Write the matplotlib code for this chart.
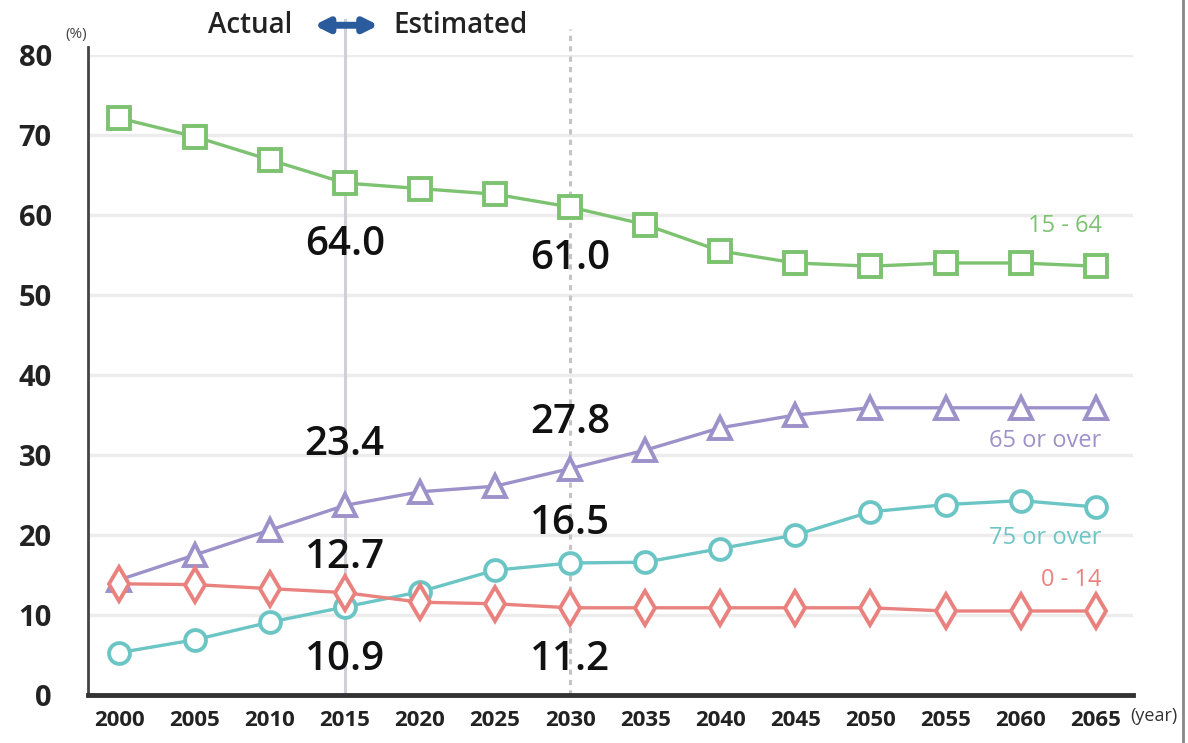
import numpy as np
import matplotlib.pyplot as plt
from matplotlib.lines import Line2D

years = [2000, 2005, 2010, 2015, 2020, 2025, 2030, 2035, 2040, 2045, 2050, 2055, 2060, 2065]

age_15_64 = [72.1, 69.8, 66.9, 64.0, 63.3, 62.6, 61.0, 58.8, 55.5, 54.0, 53.6, 54.0, 54.0, 53.6]
age_65_over = [14.4, 17.5, 20.6, 23.7, 25.4, 26.1, 28.3, 30.6, 33.4, 35.0, 35.9, 35.9, 35.9, 35.9]
age_75_over = [5.3, 6.9, 9.1, 11.0, 12.9, 15.6, 16.5, 16.6, 18.3, 20.0, 22.9, 23.8, 24.3, 23.5]
age_0_14 = [13.9, 13.8, 13.3, 12.8, 11.6, 11.4, 10.9, 10.9, 10.9, 10.9, 10.9, 10.5, 10.5, 10.5]

series_names = ['15 - 64', '65 or over', '75 or over', '0 - 14']
colors = ['#7cc270', '#9d91c9', '#6cc5c5', '#e9827e']
markers = ['s', '^', 'o', 'd']

# numbers written on the chart at 2015 and 2030
ann_years = [2015, 2015, 2015, 2015, 2030, 2030, 2030, 2030]
ann_y = [56.2, 31.2, 17.1, 4.35, 54.5, 34.0, 21.35, 4.35]
ann_text = ['64.0', '23.4', '12.7', '10.9', '61.0', '27.8', '16.5', '11.2']

plt.rcParams['font.family'] = ['Open Sans', 'DejaVu Sans']

fig = plt.figure(figsize=(11.88, 7.43), dpi=100)
ax = fig.add_axes([0.074, 0.0646, 0.88, 0.8614])

for y in range(10, 90, 10):
    ax.axhline(y, color='#ececec', lw=2.4, zorder=0)

ax.axvline(2015, color='#cfd0d8', lw=2.2, zorder=1, ymax=1.055, clip_on=False)
ax.axvline(2030, color='#c4c4c4', lw=2.2, ls=(0, (1.7, 1.7)), zorder=1, ymax=1.04, clip_on=False)

all_series = [age_15_64, age_65_over, age_75_over, age_0_14]
sizes = [16, 16, 15, 17]
for vals, c, m, ms in zip(all_series, colors, markers, sizes):
    ax.plot(years, vals, color=c, lw=2.4, marker=m, ms=ms, mew=2.8,
            mfc='white', mec=c, zorder=3)

for xx, yy, t in zip(ann_years, ann_y, ann_text):
    ax.text(xx, yy, t, fontsize=29, fontweight='semibold', ha='center', va='center',
            color='#111111', zorder=4)

label_y = [58.6, 31.8, 19.6, 14.4]
for name, c, ly in zip(series_names, colors, label_y):
    ax.text(2065.4, ly, name, fontsize=17, fontweight='medium', ha='right', va='center',
            color=c, zorder=4)

ax.set_xlim(1997.9, 2067.5)
ax.set_ylim(0, 80)
ax.set_xticks(years)
ax.set_yticks(range(0, 90, 10))
ax.tick_params(length=0)
ax.tick_params(axis='x', pad=11, labelsize=16)
ax.tick_params(axis='y', pad=26, labelsize=21)
for lab in ax.get_xticklabels() + ax.get_yticklabels():
    lab.set_fontweight('bold')
    lab.set_color('#222222')

for s in ['top', 'right']:
    ax.spines[s].set_visible(False)
ax.spines['left'].set_color('#444444')
ax.spines['left'].set_linewidth(2)
ax.spines['left'].set_bounds(0, 81)
ax.spines['bottom'].set_color('#333333')
ax.spines['bottom'].set_linewidth(3.5)

fig.text(0.055, 0.954, '(%)', fontsize=11, va='center', color='#444444')
fig.text(0.951, 0.036, '(year)', fontsize=13, va='center', color='#333333')

fig.text(0.246, 0.966, 'Actual', fontsize=20, ha='right', va='center', color='#222222', fontweight='semibold')
fig.text(0.331, 0.966, 'Estimated', fontsize=20, ha='left', va='center', color='#222222', fontweight='semibold')
ax.annotate('', xy=(0.321, 0.966), xytext=(0.262, 0.966), xycoords='figure fraction',
            arrowprops=dict(arrowstyle='<|-|>', color='#2a5b9c', lw=5, mutation_scale=20))

fig.add_artist(Line2D([0.9955, 0.9955], [0, 1], color='#888888', lw=2))

fig.savefig('out.png', dpi=100)
